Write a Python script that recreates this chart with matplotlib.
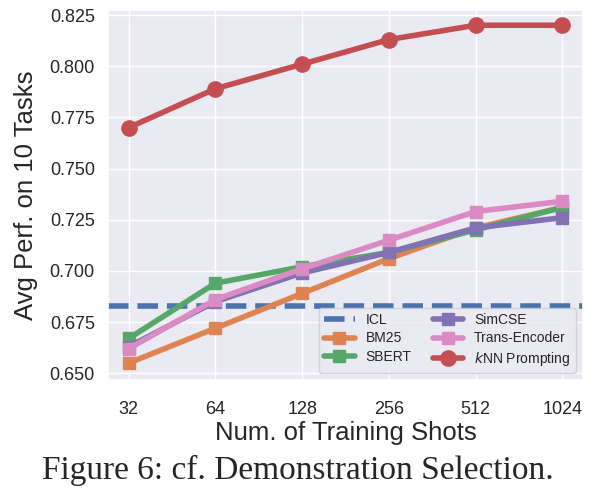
import matplotlib
matplotlib.use("Agg")
import matplotlib.pyplot as plt
import seaborn as sns
import numpy as np

shots = ["32", "64", "128", "256", "512", "1024"]
icl = 0.683
bm25 = [0.655, 0.672, 0.689, 0.706, 0.721, 0.731]
sbert = [0.667, 0.694, 0.702, 0.709, 0.720, 0.731]
simcse = [0.663, 0.685, 0.699, 0.709, 0.721, 0.726]
trans_enc = [0.662, 0.686, 0.701, 0.715, 0.729, 0.734]
knn = [0.770, 0.789, 0.801, 0.813, 0.820, 0.820]

sns.set_theme(style="darkgrid")
plt.rcParams['font.family'] = ['Liberation Sans', 'DejaVu Sans']
pal = sns.color_palette("deep")

fig = plt.figure(figsize=(5.95, 4.95), dpi=100)
ax = fig.add_axes([0.1815, 0.232, 0.7985, 0.748])
x = np.arange(len(shots))

ax.axhline(icl, color=pal[0], lw=4, ls="--", label="ICL")
ax.plot(x, bm25, color=pal[1], lw=4, marker="s", ms=9, label="BM25")
ax.plot(x, sbert, color=pal[2], lw=4, marker="s", ms=9, label="SBERT")
ax.plot(x, simcse, color=pal[4], lw=4, marker="s", ms=9, label="SimCSE")
ax.plot(x, trans_enc, color=pal[6], lw=4, marker="s", ms=9, label="Trans-Encoder")
ax.plot(x, knn, color=pal[3], lw=4, marker="o", ms=11, label="$k$NN Prompting")

ax.set_xticks(x)
ax.set_xticklabels(shots)
ax.set_xlim(-0.24, 5.24)
ax.set_ylim(0.6466, 0.8275)
ax.set_yticks([0.650, 0.675, 0.700, 0.725, 0.750, 0.775, 0.800, 0.825])
ax.yaxis.set_major_formatter(matplotlib.ticker.FormatStrFormatter("%.3f"))
ax.tick_params(labelsize=13)
ax.tick_params(axis="x", pad=9)
ax.set_xlabel("Num. of Training Shots", fontsize=18.5, labelpad=2)
ax.set_ylabel("Avg Perf. on 10 Tasks", fontsize=18.5, labelpad=8)
ax.legend(loc="lower right", ncol=2, fontsize=10, handlelength=2.2,
          labelspacing=0.3, columnspacing=1.5, borderpad=0.4)

fig.text(0.5, 0.05, "Figure 6: cf. Demonstration Selection.", ha="center",
         va="center", fontsize=24, family="Liberation Serif")

fig.savefig("out.png", dpi=100, facecolor="white")
